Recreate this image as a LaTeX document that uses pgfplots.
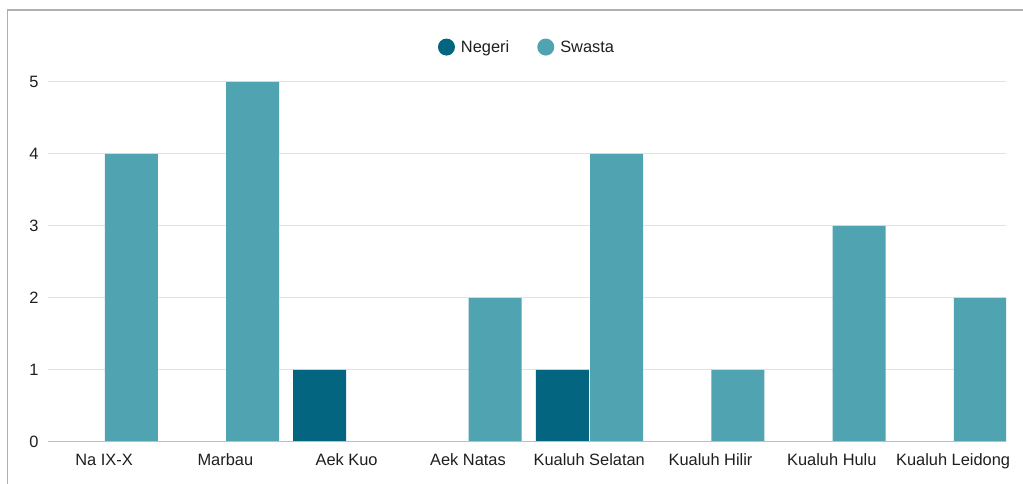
\documentclass[border=0pt]{standalone}
\usepackage{pgfplots}
\pgfplotsset{compat=1.18}
\usepackage{fontspec}
\setmainfont{Liberation Sans}
\definecolor{negeri}{HTML}{03657F}
\definecolor{swasta}{HTML}{50A3B0}
\definecolor{frame}{HTML}{B0B0B0}
\definecolor{gridc}{HTML}{E2E2E2}
\definecolor{basec}{HTML}{BDBDBD}
\begin{document}
\begin{tikzpicture}[x=1bp,y=1bp]
\path[use as bounding box] (0,0) rectangle (1023,484);
\fill[white] (0,0) rectangle (1023,484);
\draw[frame, line width=1.5bp] (7.5,0) -- (7.5,474) -- (1023,474);
\begin{axis}[
  at={(48bp,42bp)}, anchor=south west,
  scale only axis, width=958bp, height=360bp,
  xmin=-0.462, xmax=7.436, ymin=0, ymax=5,
  axis line style={draw=none}, tick style={draw=none},
  ybar, bar width=0.437,
  xtick={0,...,7},
  xticklabels={Na IX-X, Marbau, Aek Kuo, Aek Natas, Kualuh Selatan, Kualuh Hilir, Kualuh Hulu, Kualuh Leidong},
  ytick={0,...,5},
  ymajorgrids, grid style={gridc, line width=1bp},
  ticklabel style={font=\fontsize{16.4bp}{20bp}\selectfont, text=black!88},
  xticklabel style={yshift=-4bp},
  yticklabel style={xshift=-6bp},
  /pgf/number format/assume math mode=true,
  legend columns=2,
  legend style={draw=none, fill=none, anchor=center, at={(0.5,1.097)},
    font=\fontsize{16.4bp}{20bp}\selectfont, text=black!88,
    /tikz/every even column/.append style={column sep=26bp}},
  legend image code/.code={\fill[#1] (0bp,0bp) circle (8.5bp); \path (-8.5bp,0bp) (12.5bp,0bp);},
]
\addplot[fill=negeri, draw=none, bar shift=-0.222] coordinates {(2,1) (4,1)};
\addplot[fill=swasta, draw=none, bar shift=0.225] coordinates {(0,4) (1,5) (3,2) (4,4) (5,1) (6,3) (7,2)};
\legend{Negeri, Swasta}
\draw[basec, line width=1.6bp] (rel axis cs:0,0) -- (rel axis cs:1,0);
\end{axis}
\end{tikzpicture}
\end{document}
